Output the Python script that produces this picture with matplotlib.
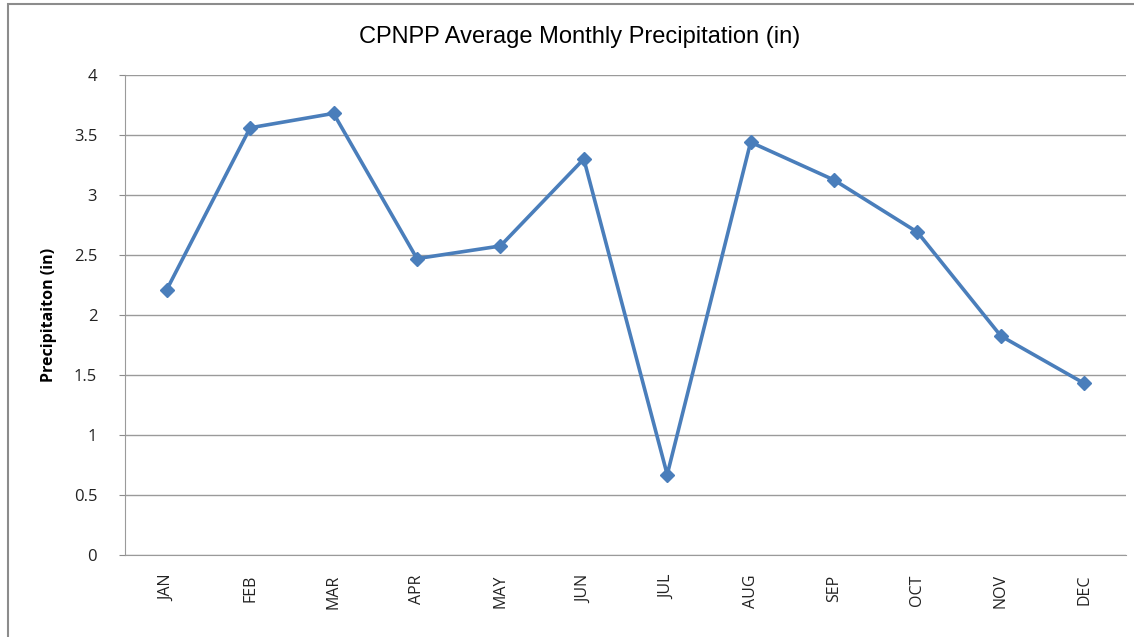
import matplotlib.pyplot as plt
from matplotlib.patches import Rectangle

months = ['JAN', 'FEB', 'MAR', 'APR', 'MAY', 'JUN',
          'JUL', 'AUG', 'SEP', 'OCT', 'NOV', 'DEC']
precip = [2.21, 3.56, 3.68, 2.47, 2.575, 3.30,
          0.67, 3.44, 3.125, 2.69, 1.825, 1.43]
yticks = [0, 0.5, 1, 1.5, 2, 2.5, 3, 3.5, 4]
ylabels = ['0', '0.5', '1', '1.5', '2', '2.5', '3', '3.5', '4']

W, H = 1134, 637
fig = plt.figure(figsize=(W / 100, H / 100), dpi=100)

# outer chart frame
fig.patches.append(Rectangle((8 / W, -0.01), 1.2, 1 - 4 / H + 0.01,
                             transform=fig.transFigure, fill=False,
                             edgecolor='#8c8c8c', linewidth=1.5))

ax = fig.add_axes([125 / W, 1 - 555 / H, 1001 / W, 480 / H])
x = range(len(months))
ax.plot(x, precip, color='#4a7ebb', linewidth=2.6, marker='D',
        markersize=7.5, markerfacecolor='#4a7ebb', markeredgecolor='#4a7ebb')

ax.set_xlim(-0.5, len(months) - 0.5)
ax.set_ylim(0, 4)
ax.set_yticks(yticks)
ax.set_yticklabels(ylabels, fontsize=12, family='Open Sans', color='#222222')
ax.set_xticks(list(x))
ax.set_xticklabels(months, rotation=90, fontsize=11.5, family='Open Sans',
                   color='#222222')
ax.tick_params(axis='x', length=0, pad=14)
ax.tick_params(axis='y', length=4, color='#8c8c8c', pad=16)
ax.grid(axis='y', color='#9a9a9a', linewidth=1)
ax.set_axisbelow(True)
for s in ['top', 'right']:
    ax.spines[s].set_visible(False)
for s in ['left', 'bottom']:
    ax.spines[s].set_color('#9a9a9a')

ax.set_ylabel('Precipitaiton (in)', fontsize=11.5, fontweight='bold',
              family='Open Sans', labelpad=12)
fig.text(580 / W, 1 - 37 / H, 'CPNPP Average Monthly Precipitation (in)',
         ha='center', va='center', fontsize=17, family='Liberation Sans')

fig.savefig('out.png', dpi=100)
